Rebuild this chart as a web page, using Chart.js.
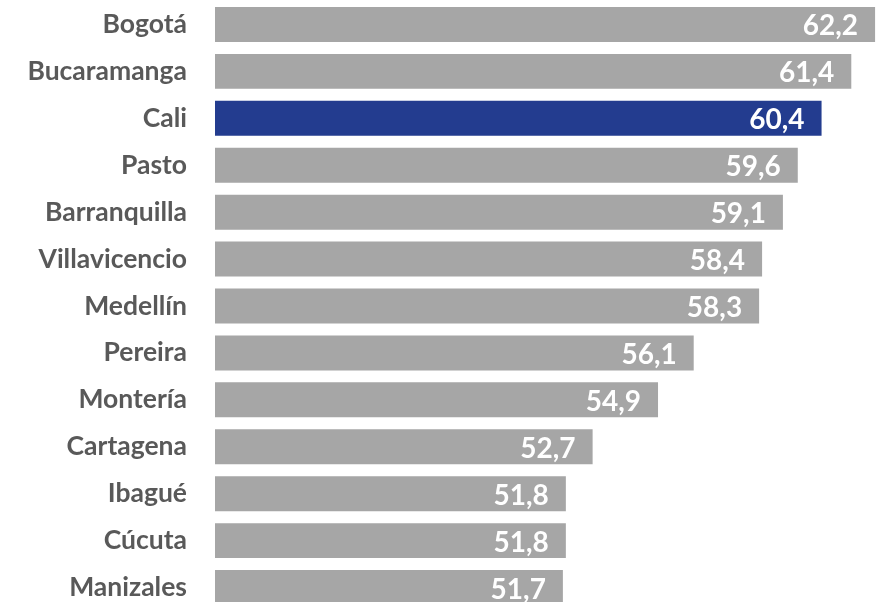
<!DOCTYPE html>
<html>
<head>
<meta charset="utf-8">
<script src="https://cdn.jsdelivr.net/npm/chart.js@4"></script>
<style>
  html, body { margin: 0; padding: 0; overflow: hidden; background: #fff; }
</style>
</head>
<body>
<canvas id="chart" width="884" height="611"></canvas>
<script>
const cities = ['Bogotá', 'Bucaramanga', 'Cali', 'Pasto', 'Barranquilla', 'Villavicencio',
    'Medellín', 'Pereira', 'Montería', 'Cartagena', 'Ibagué', 'Cúcuta', 'Manizales'];
const values = [62.2, 61.4, 60.4, 59.6, 59.1, 58.4, 58.3, 56.1, 54.9, 52.7, 51.8, 51.8, 51.7];
const highlight = 'Cali';

const grayColor = '#A6A6A6';
const blueColor = '#233C8F';
const labelFont = 'Lato, "Open Sans", sans-serif';

// value at the end of each bar, white, comma as decimal mark
const valueLabels = {
    id: 'valueLabels',
    afterDatasetsDraw(chart) {
        const ctx = chart.ctx;
        const meta = chart.getDatasetMeta(0);
        ctx.save();
        ctx.fillStyle = '#ffffff';
        ctx.font = 'bold 28px ' + labelFont;
        ctx.textAlign = 'right';
        ctx.textBaseline = 'alphabetic';
        meta.data.forEach((bar, i) => {
            const txt = values[i].toFixed(1).replace('.', ',');
            ctx.fillText(txt, bar.x - 17, bar.y + 11);
        });
        ctx.restore();
    }
};

const ctx = document.getElementById('chart').getContext('2d');
new Chart(ctx, {
    type: 'bar',
    data: {
        labels: cities,
        datasets: [{
            data: values,
            backgroundColor: cities.map(c => c === highlight ? blueColor : grayColor),
            categoryPercentage: 1,
            barPercentage: 0.745
        }]
    },
    options: {
        indexAxis: 'y',
        responsive: false,
        animation: false,
        layout: { padding: { top: 1, left: 0, right: 0, bottom: 0 } },
        plugins: {
            legend: { display: false },
            tooltip: { enabled: false }
        },
        scales: {
            x: {
                display: false,
                min: 40,
                max: 62.5
            },
            y: {
                grid: { display: false, drawTicks: false },
                border: { display: false },
                ticks: {
                    color: '#595959',
                    font: { family: labelFont, weight: 'bold', size: 26.5 },
                    padding: 28
                },
                afterFit(scale) {
                    scale.width = 215;
                    scale.paddingTop = 0;
                    scale.paddingBottom = 0;
                }
            }
        }
    },
    plugins: [valueLabels]
});
</script>
</body>
</html>
